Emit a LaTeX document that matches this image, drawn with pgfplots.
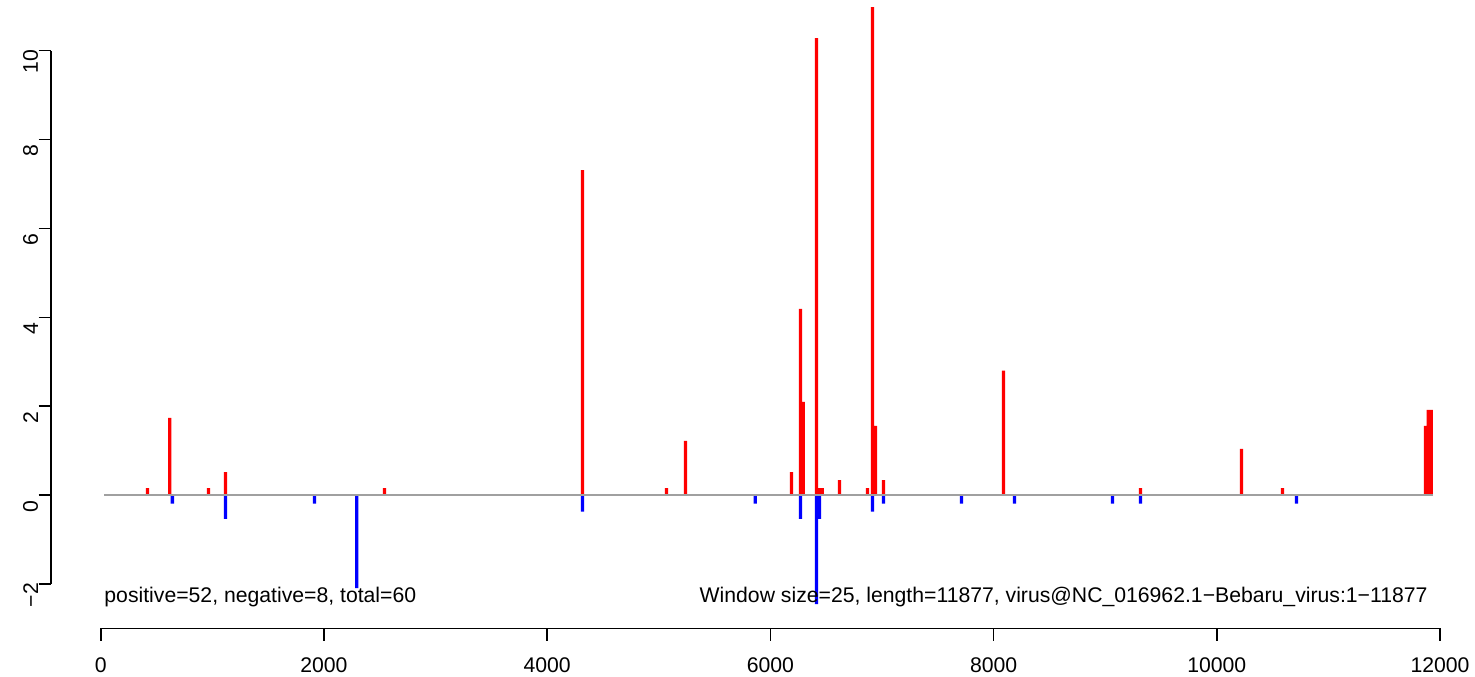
\documentclass[border=0pt]{standalone}
\usepackage{fontspec}
\setmainfont{Liberation Sans}
\usepackage{pgfplots}
\pgfplotsset{compat=1.18}
\definecolor{rred}{RGB}{255,0,0}
\definecolor{rblue}{RGB}{0,0,255}
\definecolor{rgray}{RGB}{160,160,160}
\newcommand{\rfont}{\fontsize{10.6}{12.7}\selectfont}
\begin{document}
\rfont
\begin{tikzpicture}
\useasboundingbox (-25.5pt,-23.85pt) rectangle (712pt,314.15pt);
\begin{axis}[
  at={(0pt,0pt)}, anchor=south west,
  scale only axis, width=703.8pt, height=322.65pt,
  xmin=-445.3, xmax=12166.5, ymin=-2.994, ymax=11.52,
  axis x line*=bottom, axis y line*=left,
  axis line style={draw=none},
  clip=false,
  tick align=outside,
  major tick length=6.2pt,
  tick style={black, line width=0.8pt},
  xtick={0,2000,4000,6000,8000,10000,12000},
  xticklabels={0,2000,4000,6000,8000,10000,12000},
  ytick={-2,0,2,4,6,8,10},
  yticklabels={−2,0,2,4,6,8,10},
  xticklabel style={font=\rfont, anchor=north, inner sep=0pt, yshift=-8.2pt},
  yticklabel style={font=\rfont, rotate=90, anchor=south, inner sep=0pt, xshift=-5.5pt},
]
% positive (red) bars
\addplot[ybar, bar width=1.65pt, bar shift=0pt, fill=rred, draw=none] coordinates {
 (419,0.16) (618,1.74) (966,0.16) (1118,0.52) (2543,0.16)
 (4317,7.31) (5069,0.16) (5240,1.22)
 (6190,0.52) (6270,4.19) (6295,2.10) (6414,10.28) (6440,0.16) (6465,0.16)
 (6620,0.34) (6870,0.16) (6915,10.98) (6942,1.56) (7014,0.34)
 (8089,2.80) (9316,0.16) (10221,1.04) (10589,0.16)
 (11870,1.56) (11895,1.92) (11920,1.92)
};
% negative (blue) bars
\addplot[ybar, bar width=1.65pt, bar shift=0pt, fill=rblue, draw=none] coordinates {
 (642,-0.19) (1118,-0.53) (1916,-0.19) (2294,-2.09)
 (4317,-0.37) (5865,-0.19) (6270,-0.53) (6414,-2.45) (6440,-0.53)
 (6915,-0.37) (7014,-0.19) (7713,-0.19) (8188,-0.19)
 (9065,-0.19) (9316,-0.19) (10714,-0.19)
};
% baseline
\addplot[rgray, line width=0.75pt, mark=none] coordinates {(29.6,0) (11934.6,0)};
% axis lines (R style, spanning the ticks only)
\draw[black, line width=0.8pt] (axis cs:0,-2.994) -- (axis cs:12000,-2.994);
\draw[black, line width=0.8pt] (axis cs:-445.3,-2) -- (axis cs:-445.3,10);
% annotations
\node[anchor=base west, inner sep=0pt, font=\rfont] at (axis cs:30,-2.4246) {positive=52, negative=8, total=60};
\node[anchor=base east, inner sep=0pt, font=\rfont] at (axis cs:11892,-2.4246) {Window size=25, length=11877, virus@NC\_016962.1−Bebaru\_virus:1−11877};
\end{axis}
\end{tikzpicture}
\end{document}
